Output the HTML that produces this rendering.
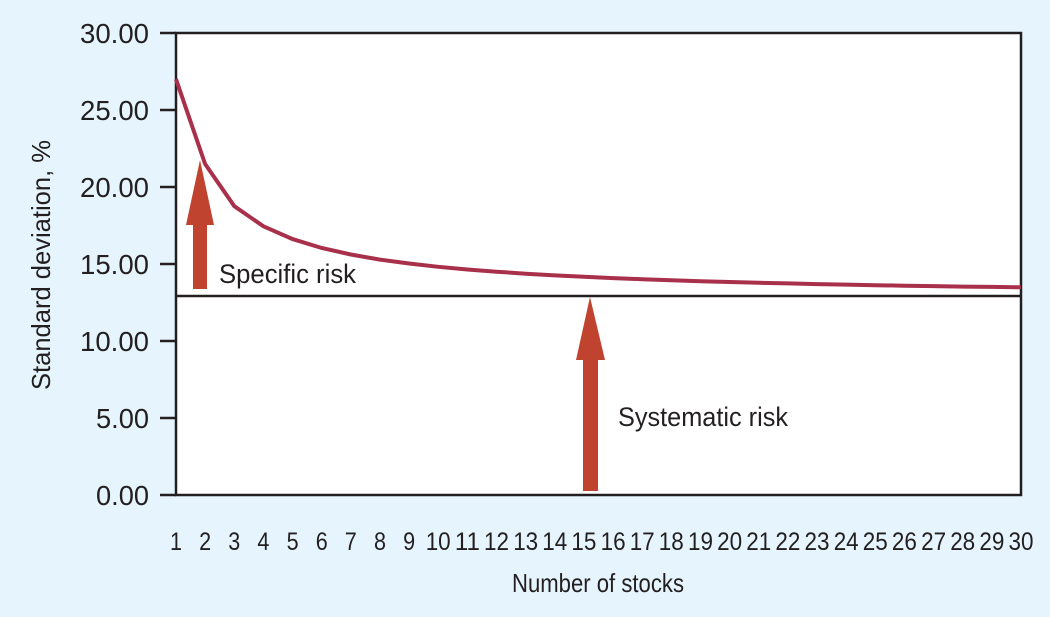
<!DOCTYPE html>
<html><head><style>body{margin:0;background:#e6f5fd}svg{display:block}</style></head>
<body>
<svg width="1050" height="617" xmlns="http://www.w3.org/2000/svg" font-family="Liberation Sans, sans-serif" fill="#231f20">
<rect width="1050" height="617" fill="#e6f5fd"/>
<rect x="176" y="33" width="845" height="462" fill="#fff" stroke="#231f20" stroke-width="2.5"/>
<g stroke="#231f20" stroke-width="2.5">
<line x1="160" y1="33" x2="176" y2="33"/><line x1="160" y1="110" x2="176" y2="110"/><line x1="160" y1="187" x2="176" y2="187"/><line x1="160" y1="264" x2="176" y2="264"/><line x1="160" y1="341" x2="176" y2="341"/><line x1="160" y1="418" x2="176" y2="418"/><line x1="160" y1="495" x2="176" y2="495"/>
<line x1="176" y1="296" x2="1021" y2="296"/>
</g>
<g font-size="28" text-anchor="end">
<text x="149" y="43" textLength="69" lengthAdjust="spacingAndGlyphs">30.00</text><text x="149" y="120" textLength="69" lengthAdjust="spacingAndGlyphs">25.00</text><text x="149" y="197" textLength="69" lengthAdjust="spacingAndGlyphs">20.00</text><text x="149" y="274" textLength="69" lengthAdjust="spacingAndGlyphs">15.00</text><text x="149" y="351" textLength="69" lengthAdjust="spacingAndGlyphs">10.00</text><text x="149" y="428" textLength="53" lengthAdjust="spacingAndGlyphs">5.00</text><text x="149" y="505" textLength="53" lengthAdjust="spacingAndGlyphs">0.00</text>
</g>
<g id="xl" font-size="25" text-anchor="middle"></g>
<text x="598" y="592" font-size="26" text-anchor="middle" textLength="172" lengthAdjust="spacingAndGlyphs">Number of stocks</text>
<text transform="translate(50,265) rotate(-90)" font-size="26" text-anchor="middle" textLength="250" lengthAdjust="spacingAndGlyphs">Standard deviation, %</text>
<path id="curve" fill="none" stroke="#a8304a" stroke-width="4"/>
<polygon fill="#bf432f" points="200,160 214,225 207,225 207,289 193,289 193,225 186,225"/>
<polygon fill="#bf432f" points="590,297 605,360 598,360 598,491 583,491 583,360 576,360"/>
<text x="219" y="283" font-size="27" textLength="137" lengthAdjust="spacingAndGlyphs">Specific risk</text>
<text x="618" y="426" font-size="27" textLength="170" lengthAdjust="spacingAndGlyphs">Systematic risk</text>
</svg>
<script>
var g=document.getElementById('xl'),d='';
for(var n=1;n<=30;n++){var x=176+(n-1)*845/29;
g.innerHTML+='<text x="'+x.toFixed(1)+'" y="550"'+(n>=10?' textLength="25" lengthAdjust="spacingAndGlyphs"':' textLength="12" lengthAdjust="spacingAndGlyphs"')+'>'+n+'</text>';
var b2=163,s=Math.sqrt(b2+(729-b2)/n),y=495-15.4*s;if(n==2)y=164;d+=(n==1?'M':'L')+x.toFixed(1)+','+y.toFixed(1);}
document.getElementById('curve').setAttribute('d',d);
</script>
</body></html>
